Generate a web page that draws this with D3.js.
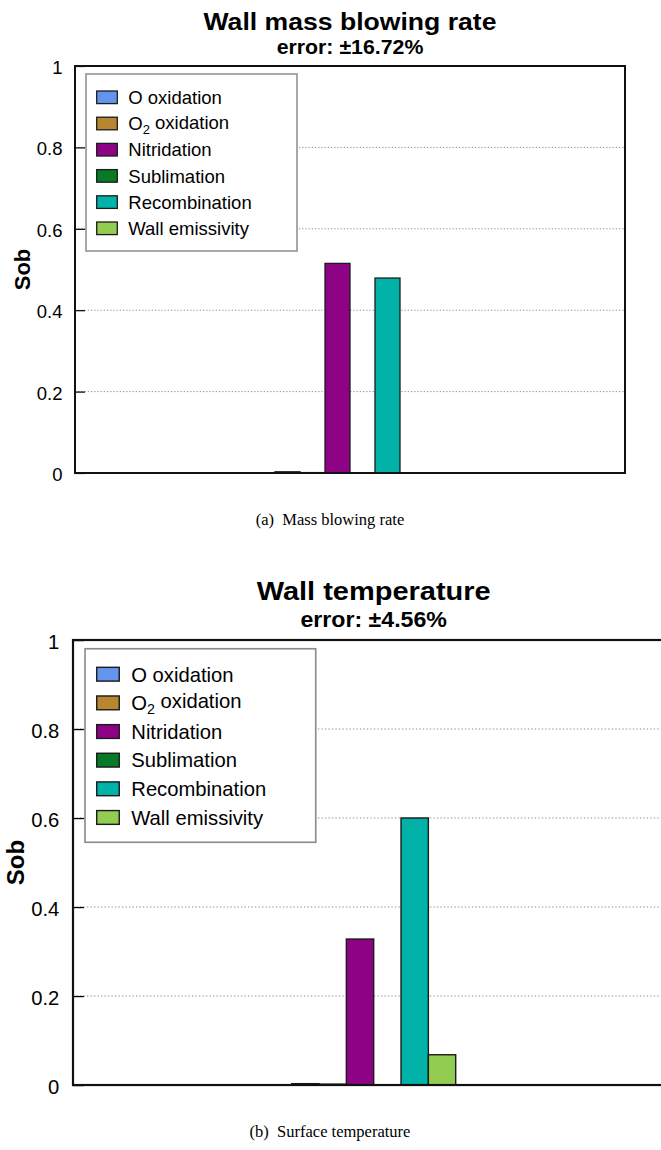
<!DOCTYPE html>
<html>
<head>
<meta charset="utf-8">
<script src="https://cdn.jsdelivr.net/npm/d3@7"></script>
<style>
  html, body { margin: 0; padding: 0; background: #fff; }
  svg { display: block; }
  text { font-family: "Liberation Sans", Arial, Helvetica, sans-serif; fill: #000; }
  .cap { font-family: "Liberation Serif", "Times New Roman", serif; white-space: pre; }
</style>
</head>
<body>
<svg id="chart" width="661" height="1150"></svg>
<script>
// ---------------- data ----------------
const seriesNames = ["O oxidation", "O2 oxidation", "Nitridation", "Sublimation", "Recombination", "Wall emissivity"];
const seriesColors = ["#6495ed", "#b8862e", "#8e0385", "#067a26", "#00b2a8", "#92cd4f"];
const massBlowingValues = [0.003, 0.001, 0.515, 0, 0.479, 0];
const wallTempValues = [0.003, 0.002, 0.328, 0, 0.600, 0.068];
const yTickValues = [0, 0.2, 0.4, 0.6, 0.8, 1];
const yTickLabels = ["0", "0.2", "0.4", "0.6", "0.8", "1"];
const gridValues = [0.2, 0.4, 0.6, 0.8];
const panelTitles = ["Wall mass blowing rate", "Wall temperature"];
const panelSubtitles = ["error: \u00b116.72%", "error: \u00b14.56%"];
const panelCaptions = ["(a)  Mass blowing rate", "(b)  Surface temperature"];

// ---------------- drawing ----------------
const svg = d3.select("#chart");
const W = 550, H = 407;

function drawPanel(tx, ty, s, values, title, subtitle, titleLen, subLen) {
  const g = svg.append("g").attr("transform", `translate(${tx},${ty}) scale(${s})`);

  const y = d3.scaleLinear().domain([0, 1]).range([H, 0]);
  const outer = d3.scaleBand().domain(["group"]).range([0, W]).paddingInner(0).paddingOuter(4 / 3);
  const inner = d3.scaleBand().domain(seriesNames).range([0, outer.bandwidth()]).padding(0);

  // titles
  g.append("text").attr("x", W / 2).attr("y", -36.5).attr("text-anchor", "middle")
    .attr("font-size", 23.5).attr("font-weight", "bold")
    .attr("textLength", titleLen).attr("lengthAdjust", "spacingAndGlyphs").text(title);
  g.append("text").attr("x", W / 2).attr("y", -11.8).attr("text-anchor", "middle")
    .attr("font-size", 19.5).attr("font-weight", "bold")
    .attr("textLength", subLen).attr("lengthAdjust", "spacingAndGlyphs").text(subtitle);

  // grid
  g.append("g").selectAll("line").data(gridValues).join("line")
    .attr("x1", 0).attr("x2", W).attr("y1", d => y(d)).attr("y2", d => y(d))
    .attr("stroke", "#8a8a8a").attr("stroke-width", 1).attr("stroke-dasharray", "1.2,2");

  // bars
  g.append("g").selectAll("rect").data(values.map((v, i) => ({ v, name: seriesNames[i], c: seriesColors[i] })).filter(d => d.v > 0))
    .join("rect")
    .attr("x", d => outer("group") + inner(d.name))
    .attr("y", d => y(d.v))
    .attr("width", inner.bandwidth())
    .attr("height", d => H - y(d.v))
    .attr("fill", d => d.c)
    .attr("stroke", "#1c1c1c").attr("stroke-width", 1.3);

  // y axis (ticks inward, labels left)
  const axis = d3.axisLeft(y).tickValues(yTickValues)
    .tickFormat((d, i) => yTickLabels[i]).tickSize(-10).tickPadding(12.5);
  const ax = g.append("g").call(axis);
  ax.select(".domain").remove();
  ax.selectAll(".tick line").attr("stroke", "#000").attr("stroke-width", 1.2);
  ax.selectAll(".tick text").attr("font-size", 18.5)
    .attr("font-family", "'Liberation Sans', Arial, sans-serif").attr("fill", "#000").attr("dy", "0.4em");

  // y label
  g.append("text").attr("transform", `translate(-45,${H / 2}) rotate(-90)`)
    .attr("text-anchor", "middle").attr("font-size", 22).attr("font-weight", "bold").text("Sob");

  // frame
  g.append("rect").attr("x", 0).attr("y", 0).attr("width", W).attr("height", H)
    .attr("fill", "none").attr("stroke", "#111").attr("stroke-width", 2);

  // legend
  const lg = g.append("g").attr("transform", "translate(11,8)");
  lg.append("rect").attr("x", 0).attr("y", 0).attr("width", 211).attr("height", 177)
    .attr("fill", "#fff").attr("stroke", "#8c8c8c").attr("stroke-width", 1.5);
  const rows = lg.selectAll("g.row").data(seriesNames).join("g")
    .attr("transform", (d, i) => `translate(0,${23.3 + i * 26.2})`);
  rows.append("rect").attr("x", 10.7).attr("y", -6.3).attr("width", 20.6).attr("height", 12.6)
    .attr("fill", (d, i) => seriesColors[i]).attr("stroke", "#1c1c1c").attr("stroke-width", 1.3);
  rows.each(function (d) {
    const t = d3.select(this).append("text").attr("x", 42.3).attr("y", 0).attr("dy", "0.36em")
      .attr("font-size", 18.5);
    if (d.startsWith("O2")) {
      t.append("tspan").text("O");
      t.append("tspan").attr("font-size", 13).attr("dy", "0.3em").text("2");
      t.append("tspan").attr("dy", "-0.3em").attr("font-size", 18.5).text(d.slice(2));
    } else {
      t.text(d);
    }
  });
}

drawPanel(75, 66, 1, massBlowingValues, panelTitles[0], panelSubtitles[0], 293, 146.7);
drawPanel(73, 640, 1.0934, wallTempValues, panelTitles[1], panelSubtitles[1], 214, 134);

// captions
svg.append("text").attr("class", "cap").attr("x", 330).attr("y", 525).attr("text-anchor", "middle")
  .attr("font-size", 16.5).text(panelCaptions[0]);
svg.append("text").attr("class", "cap").attr("x", 330).attr("y", 1137).attr("text-anchor", "middle")
  .attr("font-size", 16.5).text(panelCaptions[1]);
</script>
</body>
</html>
